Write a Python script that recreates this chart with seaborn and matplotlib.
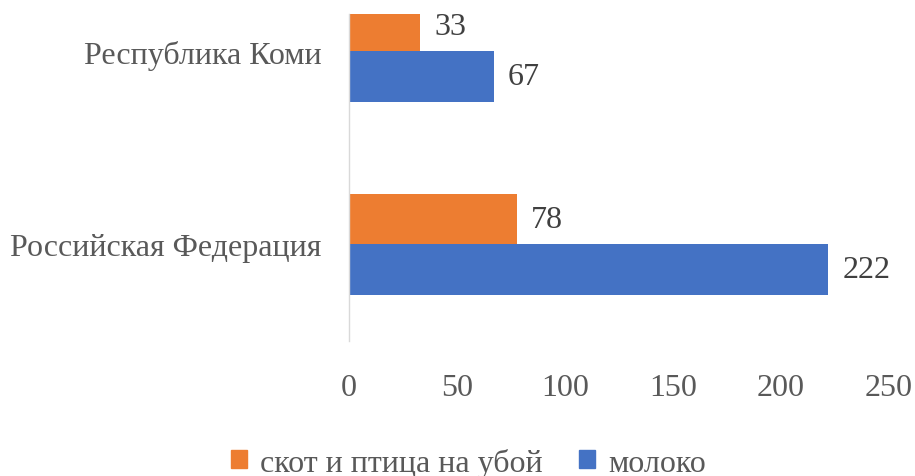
import pandas as pd
import seaborn as sns
import matplotlib.pyplot as plt

regions = ['Республика Коми', 'Российская Федерация']
series = ['скот и птица на убой', 'молоко']
slaughter = [33, 78]
milk = [67, 222]
colors = ['#ED7D31', '#4472C4']

df = pd.DataFrame({
    'region': regions * 2,
    'series': [series[0]] * 2 + [series[1]] * 2,
    'value': slaughter + milk,
})

sns.set_style('white')
plt.rcParams['font.family'] = ['Liberation Serif', 'DejaVu Serif']

fig = plt.figure(figsize=(9.15, 4.77), dpi=100)
ax = fig.add_axes([0.3814, 0.283, 0.59, 0.6856])

sns.barplot(data=df, y='region', x='value', hue='series', hue_order=series,
            palette=colors, orient='h', width=0.52, saturation=1,
            edgecolor='none', legend=False, ax=ax)

for cont in ax.containers:
    ax.bar_label(cont, padding=10, fontsize=23, color='#404040')

ax.set_xlim(0, 250)
ax.set_ylim(1.5, -0.194)
ax.set_xticks([0, 50, 100, 150, 200, 250])
ax.set_xlabel('')
ax.set_ylabel('')
ax.tick_params(axis='x', length=0, labelsize=23, labelcolor='#595959', pad=23)
ax.tick_params(axis='y', length=0, labelsize=23, labelcolor='#595959', pad=20)
for s in ['top', 'right', 'bottom']:
    ax.spines[s].set_visible(False)
ax.spines['left'].set_color('#d9d9d9')
ax.spines['left'].set_linewidth(1)

handles = [plt.Rectangle((0, 0), 1, 1, color=c) for c in colors]
fig.legend(handles, series, loc='center', bbox_to_anchor=(0.512, 0.028),
           ncol=2, frameon=False, fontsize=23, labelcolor='#595959',
           handlelength=0.5, handleheight=0.5, handletextpad=0.4,
           columnspacing=1.15)

fig.savefig('out.png', dpi=100)
